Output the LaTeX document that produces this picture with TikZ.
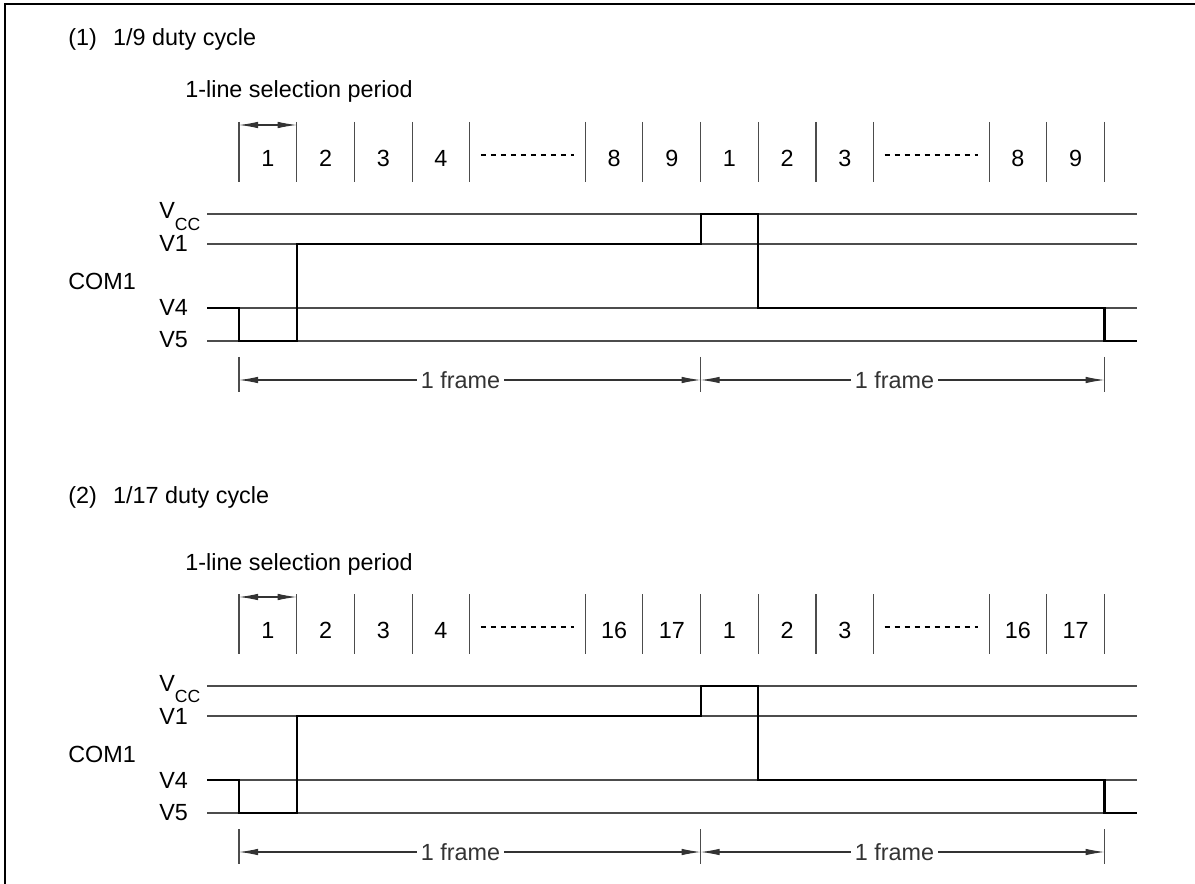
\documentclass[tikz,border=0pt]{standalone}
\usepackage{fontspec}
\setmainfont{Liberation Sans}
\usetikzlibrary{arrows.meta, math}

\tikzset{
  grid line/.style={line width=0.6pt, black!70},
  wave/.style={line width=1.2pt, line join=miter},
  dim arrow/.style={line width=0.6pt, black!80,
    {Latex[length=0.38cm,width=0.13cm]}-{Latex[length=0.38cm,width=0.13cm]}},
  lbl/.style={font=\fontsize{13.3}{16}\selectfont, inner sep=0pt},
}

% one duty-cycle panel: #1 name prefix, #2 y shift, #3 #4 last two slot numbers
\newcommand{\dutypanel}[4]{%
\begin{scope}[shift={(0,#2)}]
 \node[lbl, anchor=base west] (#1-period) at (185,98) {1-line selection period};

 %slot dividers and numbers:
 \foreach \k in {0,1,2,3,4,6,7,8,9,10,11,13,14,15}
   \draw[grid line] (\xo+\k*\w,122) -- (\xo+\k*\w,182);
 \foreach \k/\n in {0/1,1/2,2/3,3/4,6/#3,7/#4,8/1,9/2,10/3,13/#3,14/#4}
   \node[lbl, anchor=base] (#1-s\k) at (\xo+\k*\w+0.5*\w,166.5) {\n};
 \foreach \k in {4,11}
   \draw[grid line, black, dash pattern=on 0.1cm off 0.1cm] (\xo+\k*\w+11,155) -- (\xo+\k*\w+2*\w-11,155);
 \coordinate (#1-a) at (\xo,125);
 \coordinate (#1-b) at (\xo+\w,125);
 \draw[dim arrow] (#1-a) -- (#1-b);

 %voltage levels:
 \foreach \y in {214,244,308,341}
   \draw[grid line] (207,\y) -- (1137,\y);
 \node[lbl, anchor=base west] (#1-vcc) at (159,219) {V\raisebox{-6.8pt}{\fontsize{10}{11}\selectfont CC}};
 \node[lbl, anchor=base west] (#1-v1) at (159,252) {V1};
 \node[lbl, anchor=base west] (#1-com) at (68,290) {COM1};
 \node[lbl, anchor=base west] (#1-v4) at (159,316) {V4};
 \node[lbl, anchor=base west] (#1-v5) at (159,348) {V5};

 %COM1 waveform:
 \draw[wave] (207,308) -- (\xo,308) -- (\xo,341) -- (\xo+\w,341) -- (\xo+\w,244)
   -- (\xo+8*\w,244) -- (\xo+8*\w,214) -- (\xo+9*\w,214) -- (\xo+9*\w,308)
   -- (\xo+15*\w,308) -- (\xo+15*\w,341) -- (1137,341);

 %frames:
 \foreach \k in {0,8,15}
   \draw[grid line] (\xo+\k*\w,357) -- (\xo+\k*\w,392);
 \coordinate (#1-f0) at (\xo,380);
 \coordinate (#1-f1) at (\xo+8*\w,380);
 \coordinate (#1-f2) at (\xo+15*\w,380);
 \draw[dim arrow] (#1-f0) -- node[lbl, pos=0.48, fill=white, inner xsep=2pt] {1 frame} (#1-f1);
 \draw[dim arrow] (#1-f1) -- node[lbl, pos=0.48, fill=white, inner xsep=2pt] {1 frame} (#1-f2);
\end{scope}}

\begin{document}
\begin{tikzpicture}[x=0.02cm, y=-0.02cm]
\tikzmath{
\xo=239;
\w=57.7;
}
 \useasboundingbox (0,0) rectangle (1195,884);

 %border:
 \draw[line width=1.1pt] (5,884) -- (5,4) -- (1195,4);

 \node[lbl, anchor=base west] (t1) at (68,46) {(1)\hspace{0.7em}1/9 duty cycle};
 \dutypanel{p}{0}{8}{9}

 \node[lbl, anchor=base west] (t2) at (68,503) {(2)\hspace{0.7em}1/17 duty cycle};
 \dutypanel{q}{472}{16}{17}
\end{tikzpicture}
\end{document}
